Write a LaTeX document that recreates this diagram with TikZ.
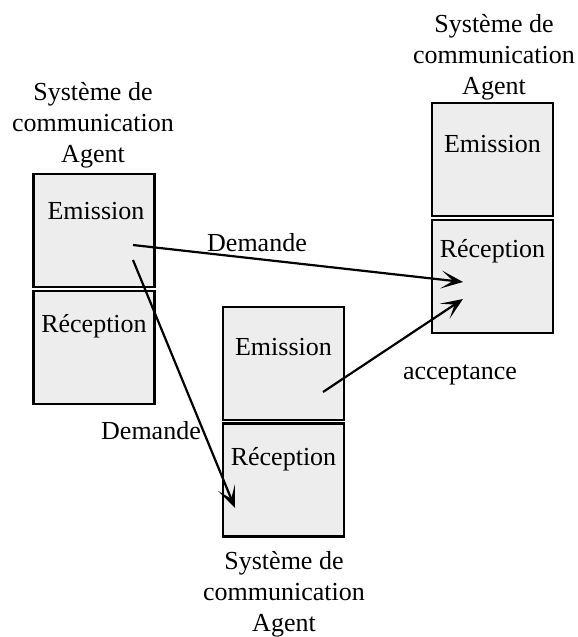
\documentclass[tikz,border=0pt]{standalone}
\usepackage{fontspec}
\setmainfont{Liberation Serif}
\usetikzlibrary{arrows.meta,positioning}
\definecolor{boxgray}{HTML}{EDEDED}
\tikzset{
  bloc/.style={draw,line width=1.2pt,fill=boxgray,minimum width=60.5pt,minimum height=56.5pt,inner sep=0pt},
  titre/.style={align=center,font=\fontsize{13}{15.5}\selectfont,inner sep=0pt},
  mot/.style={font=\fontsize{13}{15.5}\selectfont,inner sep=0pt},
  fleche/.style={line width=1.1pt,-{Stealth[length=11pt,width=9pt,inset=6pt]}}
}
\begin{document}
\begin{tikzpicture}[x=0.5pt,y=-0.5pt]
	\useasboundingbox (0,0) rectangle (578,637);
	%agent gauche
	\node[bloc] (em-1) at (94,230.5) {};
	\node[bloc] (rc-1) at (94,347.5) {};
	\node[mot] (t-em-1) at ([xshift=1pt,yshift=-19pt]em-1.north) {Emission};
	\node[mot] (t-rc-1) at ([yshift=-18pt]rc-1.north) {Réception};
	\node[titre] (ag-1) at (93,125) {Système de\\communication\\Agent};
	%agent droite
	\node[bloc] (em-2) at (492.5,159.5) {};
	\node[bloc] (rc-2) at (492.5,276.5) {};
	\node[mot] (t-em-2) at ([yshift=-21pt]em-2.north) {Emission};
	\node[mot] (t-rc-2) at ([yshift=-16pt]rc-2.north) {Réception};
	\node[titre] (ag-2) at (494,57) {Système de\\communication\\Agent};
	%agent milieu
	\node[bloc] (em-3) at (283.5,363.5) {};
	\node[bloc] (rc-3) at (283.5,480) {};
	\node[mot] (t-em-3) at ([yshift=-20.5pt]em-3.north) {Emission};
	\node[mot] (t-rc-3) at ([yshift=-18.5pt]rc-3.north) {Réception};
	\node[titre] (ag-3) at (284,594) {Système de\\communication\\Agent};
	%messages
	\coordinate (d-1) at (133,245); \coordinate (a-1) at (463,282);
	\coordinate (d-2) at (133,260); \coordinate (a-2) at (235,508);
	\coordinate (d-3) at (323,392); \coordinate (a-3) at (463,299);
	\draw[fleche] (d-1) -- (a-1);
	\draw[fleche] (d-2) -- (a-2);
	\draw[fleche] (d-3) -- (a-3);
	\node[mot] (l-1) at (257,243) {Demande};
	\node[mot] (l-2) at (151,431) {Demande};
	\node[mot] (l-3) at (460,375) {acceptance};
\end{tikzpicture}
\end{document}
